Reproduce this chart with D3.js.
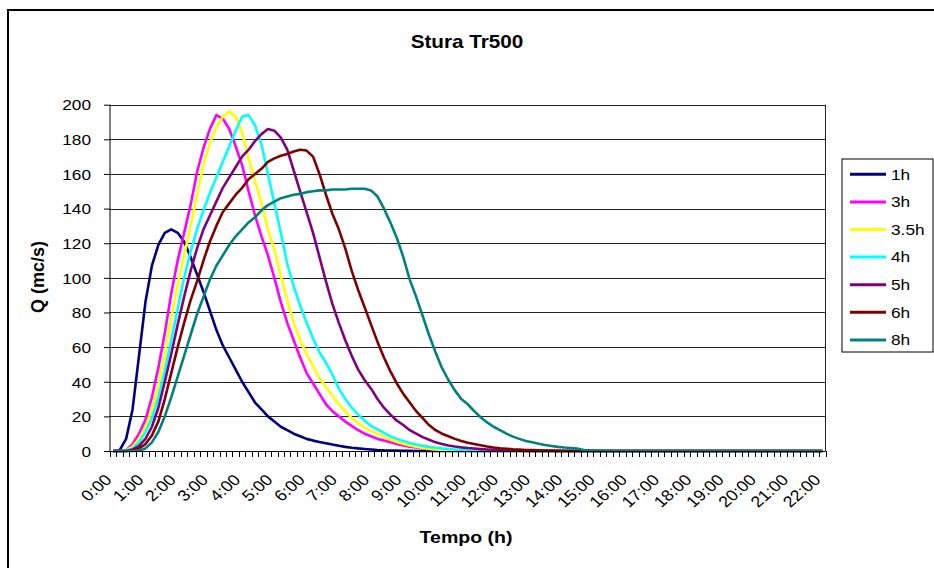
<!DOCTYPE html>
<html><head><meta charset="utf-8">
<script src="https://cdn.jsdelivr.net/npm/d3@7"></script>
<style>body{margin:0;background:#fff}svg{display:block}text{font-family:"Liberation Sans",Arial,sans-serif}</style>
</head><body><svg id="c" width="934" height="568"></svg>
<script>
// time step 0.2 h (12 min), 0:00 .. 22:00
const categories = ["0:00","0:12","0:24","0:36","0:48","1:00","1:12","1:24","1:36","1:48","2:00","2:12","2:24","2:36","2:48","3:00","3:12","3:24","3:36","3:48","4:00","4:12","4:24","4:36","4:48","5:00","5:12","5:24","5:36","5:48","6:00","6:12","6:24","6:36","6:48","7:00","7:12","7:24","7:36","7:48","8:00","8:12","8:24","8:36","8:48","9:00","9:12","9:24","9:36","9:48","10:00","10:12","10:24","10:36","10:48","11:00","11:12","11:24","11:36","11:48","12:00","12:12","12:24","12:36","12:48","13:00","13:12","13:24","13:36","13:48","14:00","14:12","14:24","14:36","14:48","15:00","15:12","15:24","15:36","15:48","16:00","16:12","16:24","16:36","16:48","17:00","17:12","17:24","17:36","17:48","18:00","18:12","18:24","18:36","18:48","19:00","19:12","19:24","19:36","19:48","20:00","20:12","20:24","20:36","20:48","21:00","21:12","21:24","21:36","21:48","22:00"];
const xTickLabels = ["0:00","1:00","2:00","3:00","4:00","5:00","6:00","7:00","8:00","9:00","10:00","11:00","12:00","13:00","14:00","15:00","16:00","17:00","18:00","19:00","20:00","21:00","22:00"];
const yTicks = [0,20,40,60,80,100,120,140,160,180,200];
const seriesNames = ["1h","3h","3.5h","4h","5h","6h","8h"];
const seriesColors = ["#000080","#FF00FF","#FFFF00","#00FFFF","#800080","#800000","#008080"];

const q1h = [0,0.5,7,24,55,86,107,119,126,128,126,121,112,102,92,81,70,61,54,47,40,34,28,24,20,17,14,12,10,8.5,7,6,5.2,4.5,3.7,3,2.4,1.9,1.5,1.2,0.9,0.6,0.4,0.3,0.2,0.1,0.1,
 0,0,0,0,0,0,0,0,0,0,0,0,0,0,0,0,0,0,0,0,0,0,0,0,0,0,0,0,0,0,0,0,0,0,0,0,0,0,0,0,0,0,0,0,0,0,0,0,0,0,0,0,0,0,0,0,0,0,0,0,0,0,0,0];
const q3h = [0,0,0.5,4,10,18,31,48,68,91,110,126,142,161,175,186,194,192,186,176,165,150,136,124,113,100,86,74,64,54,45,39,33,27,23,20,17,14.5,12,10,8.5,7,6,5,4,3.2,2.5,2,1.5,1,0.7,0.5,0.3,0.2,0.1,
 0,0,0,0,0,0,0,0,0,0,0,0,0,0,0,0,0,0,0,0,0,0,0,0,0,0,0,0,0,0,0,0,0,0,0,0,0,0,0,0,0,0,0,0,0,0,0,0,0,0,0,0,0,0,0,0];
const q35h = [0,0,0.3,2.5,7,14,24,38,56,77,96,113,130,148,166,178,187,193,196,193,184,169,156,143,128,116,101,87,74,64,56,49,42,37,32,27,23,19,16,13.5,11.5,10,8,6.5,5.2,4.2,3.2,2.5,1.8,1.3,0.9,0.6,0.4,0.2,0.1,
 0,0,0,0,0,0,0,0,0,0,0,0,0,0,0,0,0,0,0,0,0,0,0,0,0,0,0,0,0,0,0,0,0,0,0,0,0,0,0,0,0,0,0,0,0,0,0,0,0,0,0,0,0,0,0,0];
const q4h = [0,0,0.2,1.5,5,11,19,31,46,64,82,100,115,128,139,149,158,167,176,185,193,194,188,177,160,143,126,108,95,84,74,65,57,51,44,36,30,25,21,17.5,14.5,12.5,10.5,8.5,7,5.8,4.6,3.7,3,2.4,1.9,1.5,1.2,0.9,0.6,0.4,0.2,0.1,
 0,0,0,0,0,0,0,0,0,0,0,0,0,0,0,0,0,0,0,0,0,0,0,0,0,0,0,0,0,0,0,0,0,0,0,0,0,0,0,0,0,0,0,0,0,0,0,0,0,0,0,0,0];
const q5h = [0,0,0,0.8,3,7,14,25,40,56,73,89,104,117,128,136,144,152,158,164,170,174,179,183,186,185,181,174,162,150,138,126,112,98,85,74,64,55,47,41,36,30,25,21,17.5,15,12,10,8,6.5,5,4,3.2,2.6,2.1,1.7,1.4,1.1,0.9,0.7,0.5,0.4,0.3,0.2,0.1,
 0,0,0,0,0,0,0,0,0,0,0,0,0,0,0,0,0,0,0,0,0,0,0,0,0,0,0,0,0,0,0,0,0,0,0,0,0,0,0,0,0,0,0,0,0,0];
const q6h = [0,0,0,0.3,1.5,4,9,17,30,45,60,74,87,98,110,121,130,138,143,148,152,157,160,163,167,169,170.5,171.5,173,174,173.5,170,160,148,137,128,117,104,93,83,73,63,54,46,39,33,28,23,19,15,12,10,8.5,7,5.8,4.8,4,3.3,2.6,2,1.6,1.3,1,0.8,0.6,0.5,0.4,0.3,0.2,0.1,
 0,0,0,0,0,0,0,0,0,0,0,0,0,0,0,0,0,0,0,0,0,0,0,0,0,0,0,0,0,0,0,0,0,0,0,0,0,0,0,0,0];
const q8h = [0,0,0,0,0.2,1.5,5,11,20,31,43,55,67,79,89,99,107,113,119,124,128,132,135,139,142,144,146,147,148,148.5,149.5,150,150.5,150.5,151,151,151,151.5,151.5,151.5,150.5,147,140,132,123,112,99,89,78,67,57,48,41,35,30,27,23,19.5,16.5,14,12,10,8.3,7,5.8,5,4.2,3.5,2.9,2.4,2,1.7,1.4,0.6,0.3,0.2,0.1,0.1,
 0,0,0,0,0,0,0,0,0,0,0,0,0,0,0,0,0,0,0,0,0,0,0,0,0,0,0,0,0,0,0,0,0];
const seriesValues = [q1h,q3h,q35h,q4h,q5h,q6h,q8h];

const svg = d3.select("#c");
const X0 = 110, X1 = 825.5, Y0 = 451, Y1 = 104.7;
const FS = 1.15; // horizontal text stretch of the reference

// outer chart border
svg.append("rect").attr("x",8).attr("y",10).attr("width",960).attr("height",600)
  .attr("fill","#fff").attr("stroke","#000").attr("stroke-width",2);

const x = d3.scaleBand().domain(categories).range([X0, X1]).padding(0);
const y = d3.scaleLinear().domain([0,200]).range([Y0, Y1]);
const cx = c => x(c) + x.bandwidth()/2;

// gridlines
svg.append("g").selectAll("line").data(yTicks.filter(v=>v>0)).join("line")
  .attr("x1",X0).attr("x2",X1).attr("y1",d=>Math.round(y(d))+0.5).attr("y2",d=>Math.round(y(d))+0.5)
  .attr("stroke","#222").attr("stroke-width",1);
// right plot border
svg.append("line").attr("x1",X1).attr("x2",X1).attr("y1",Y1).attr("y2",Y0).attr("stroke","#222");

// series
const line = d3.line().x((d,i)=>cx(categories[i])).y(d=>y(d));
svg.append("g").selectAll("path").data(seriesValues).join("path")
  .attr("d",d=>line(d)).attr("fill","none")
  .attr("stroke",(d,i)=>seriesColors[i]).attr("stroke-width",2.6).attr("stroke-linejoin","round");

// y axis
const ya = svg.append("g").attr("transform",`translate(${X0},0)`)
  .call(d3.axisLeft(y).tickValues(yTicks).tickSize(6).tickPadding(0).tickFormat(d3.format("d")));
ya.select(".domain").attr("stroke","#000").attr("d",`M0,${Y1}V${Y0}`);
ya.selectAll(".tick line").attr("stroke","#000");
ya.selectAll(".tick text").attr("font-size",15).attr("fill","#000").attr("x",null).attr("dy","0.35em")
  .attr("transform","translate(-19,0) scale("+FS+",1)");

// x axis: baseline + tick marks at category boundaries
svg.append("line").attr("x1",X0).attr("x2",X1).attr("y1",Y0+0.5).attr("y2",Y0+0.5).attr("stroke","#000");
svg.append("g").selectAll("line").data(categories.concat(["end"])).join("line")
  .attr("x1",(d,i)=>Math.round(X0 + i*x.bandwidth())+0.5).attr("x2",(d,i)=>Math.round(X0 + i*x.bandwidth())+0.5)
  .attr("y1",Y0).attr("y2",Y0+6).attr("stroke","#000");
svg.append("g").selectAll("text").data(xTickLabels).join("text")
  .attr("transform",d=>`translate(${cx(d)-5},${Y0+26}) scale(${FS},1) rotate(-45)`)
  .attr("text-anchor","end").attr("dy","0.35em").attr("font-size",15.5).text(d=>d);

// titles
svg.append("text").attr("transform",`translate(467,48) scale(${FS},1)`).attr("text-anchor","middle")
  .attr("font-size",18).attr("font-weight","bold").text("Stura Tr500");
svg.append("text").attr("transform",`translate(466,543) scale(${FS},1)`).attr("text-anchor","middle")
  .attr("font-size",17).attr("font-weight","bold").text("Tempo (h)");
svg.append("text").attr("transform","translate(44,277) rotate(-90)").attr("text-anchor","middle")
  .attr("font-size",18).attr("font-weight","bold").text("Q (mc/s)");

// legend
const lg = svg.append("g");
lg.append("rect").attr("x",842).attr("y",159).attr("width",91).attr("height",193)
  .attr("fill","#fff").attr("stroke","#000");
const items = lg.selectAll("g.it").data(seriesNames).join("g").attr("class","it")
  .attr("transform",(d,i)=>`translate(0,${174.3+i*27.6})`);
items.append("line").attr("x1",850).attr("x2",886).attr("y1",0).attr("y2",0)
  .attr("stroke",(d,i)=>seriesColors[i]).attr("stroke-width",3);
items.append("text").attr("transform",`translate(891,0) scale(${FS},1)`).attr("dy","0.35em")
  .attr("font-size",15).text(d=>d);
</script></body></html>
